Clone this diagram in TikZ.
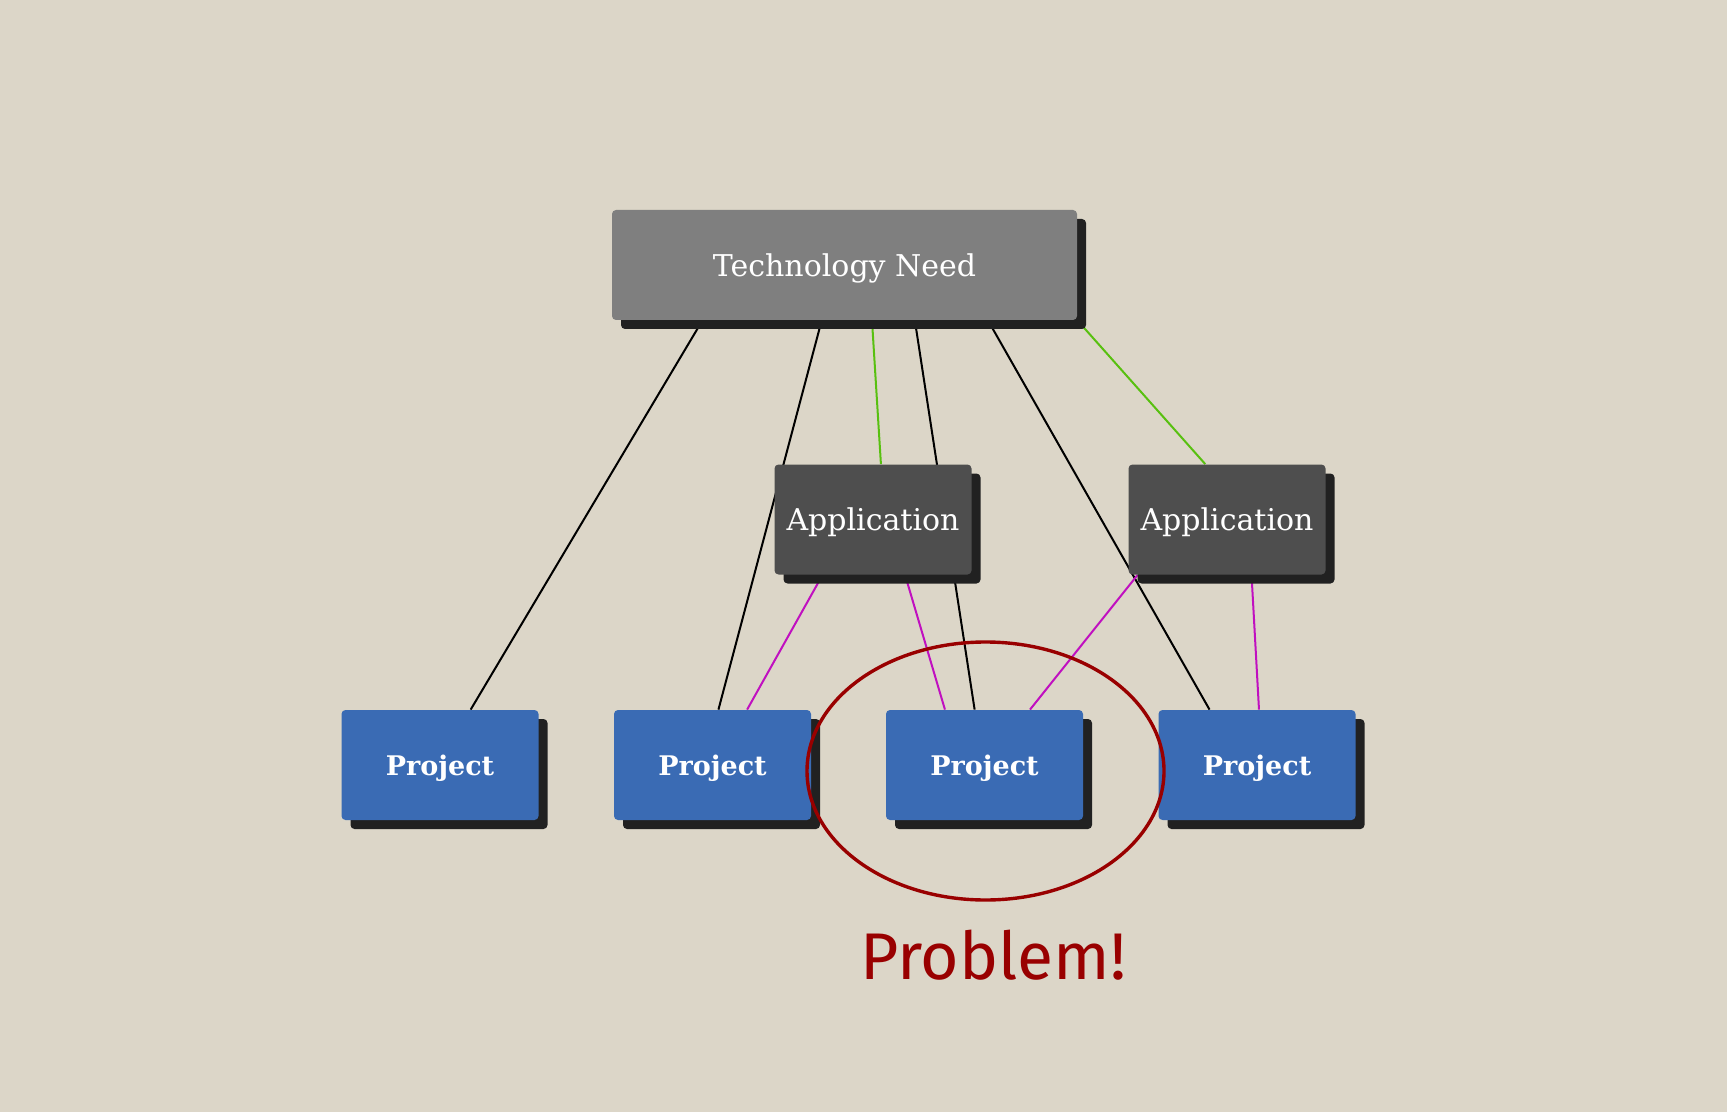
\documentclass[tikz,border=0pt]{standalone}
\usepackage{fontspec}
\setmainfont{DejaVu Serif}
\newfontfamily\handfont{Fira Sans}
\usetikzlibrary{calc,shadows,shapes.geometric,backgrounds}
\definecolor{paper}{HTML}{DCD6C8}
\definecolor{needgray}{HTML}{7F7F7F}
\definecolor{appgray}{HTML}{4E4E4E}
\definecolor{projblue}{HTML}{3A6BB4}
\definecolor{shadegray}{HTML}{212121}
\definecolor{needgreen}{HTML}{58C010}
\definecolor{appmagenta}{HTML}{C010C0}
\definecolor{probred}{HTML}{990000}

\begin{document}
\begin{tikzpicture}[x=0.5pt, y=-0.5pt,
	box/.style={rectangle, rounded corners=2pt, inner sep=0pt, text=white,
		minimum width=98.5pt, minimum height=55pt, text depth=0pt,
		font=\fontsize{15}{17}\selectfont,
		drop shadow={shadow xshift=4.5pt, shadow yshift=-4.5pt, fill=shadegray, opacity=1}},
	projbox/.style={box, fill=projblue, font=\fontsize{13.5}{16}\selectfont\bfseries},
	link/.style={line width=1pt}]
	\useasboundingbox (0,0) rectangle (1727,1112);

	% Define nodes with their coordinates
	\node[box, fill=needgray, minimum width=232.5pt] (T) at (844.5, 265) {Technology Need};
	\node[box, fill=appgray] (A1) at (873, 519.5) {Application};
	\node[box, fill=appgray] (A2) at (1227, 519.5) {Application};
	\node[projbox] (P1) at (440, 765) {Project};
	\node[projbox] (P2) at (712.5, 765) {Project};
	\node[projbox] (P3) at (984.5, 765) {Project};
	\node[projbox] (P4) at (1257, 765) {Project};

	% Mark the trouble spot
	\node[ellipse, draw=probred, line width=1.7pt, inner sep=0pt,
		minimum width=178.5pt, minimum height=129pt] (ring) at (985.5, 771) {};
	\node[text=probred, font=\handfont\fontsize{33}{38}\selectfont] (prob) at (993, 955) {Problem!};

	% Draw edges behind the boxes
	\begin{pgfonlayer}{background}
		\fill[paper] (0,0) rectangle (1727,1112);
		\draw[link] ($(T.south west)!0.195!(T.south east)$) -- ($(P1.north west)!0.655!(P1.north east)$);
		\draw[link] ($(T.south west)!0.451!(T.south east)$) -- ($(P2.north west)!0.53!(P2.north east)$);
		\draw[link, needgreen] ($(T.south west)!0.559!(T.south east)$) -- ($(A1.north west)!0.54!(A1.north east)$);
		\draw[link] ($(T.south west)!0.651!(T.south east)$) -- ($(P3.north west)!0.45!(P3.north east)$);
		\draw[link] ($(T.south west)!0.808!(T.south east)$) -- ($(P4.north west)!0.26!(P4.north east)$);
		\draw[link, needgreen] (T.south east) -- ($(A2.north west)!0.39!(A2.north east)$);

		\draw[link, appmagenta] ($(A1.south west)!0.245!(A1.south east)$) -- ($(P2.north west)!0.675!(P2.north east)$);
		\draw[link, appmagenta] ($(A1.south west)!0.662!(A1.south east)$) -- ($(P3.north west)!0.30!(P3.north east)$);
		\draw[link, appmagenta] ($(A2.south west)!0.048!(A2.south east)$) -- ($(P3.north west)!0.73!(P3.north east)$);
		\draw[link, appmagenta] ($(A2.south west)!0.624!(A2.south east)$) -- ($(P4.north west)!0.51!(P4.north east)$);
	\end{pgfonlayer}

\end{tikzpicture}
\end{document}
